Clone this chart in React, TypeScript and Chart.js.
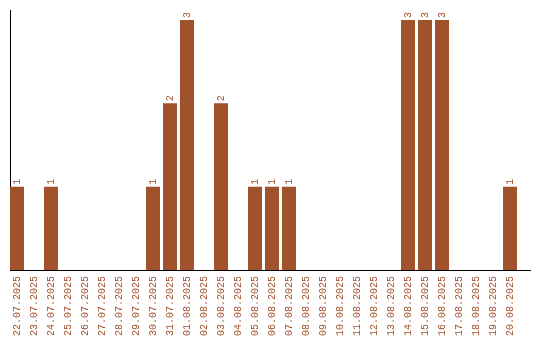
import React, { useEffect, useRef } from "react";
import { Chart, registerables } from "chart.js";

Chart.register(...registerables);

const dates = [
  "22.07.2025", "23.07.2025", "24.07.2025", "25.07.2025", "26.07.2025",
  "27.07.2025", "28.07.2025", "29.07.2025", "30.07.2025", "31.07.2025",
  "01.08.2025", "02.08.2025", "03.08.2025", "04.08.2025", "05.08.2025",
  "06.08.2025", "07.08.2025", "08.08.2025", "09.08.2025", "10.08.2025",
  "11.08.2025", "12.08.2025", "13.08.2025", "14.08.2025", "15.08.2025",
  "16.08.2025", "17.08.2025", "18.08.2025", "19.08.2025", "20.08.2025",
];

const counts = [
  1, 0, 1, 0, 0, 0, 0, 0, 1, 2,
  3, 0, 2, 0, 1, 1, 1, 0, 0, 0,
  0, 0, 0, 3, 3, 3, 0, 0, 0, 1,
];

const BAR_COLOR = "#a0522d";
const FONT = "'Liberation Mono', 'DejaVu Sans Mono', monospace";

const valueLabels = {
  id: "valueLabels",
  afterDatasetsDraw(chart: any) {
    const ctx = chart.ctx;
    const meta = chart.getDatasetMeta(0);
    ctx.save();
    ctx.fillStyle = BAR_COLOR;
    ctx.font = `10px ${FONT}`;
    ctx.textAlign = "left";
    ctx.textBaseline = "middle";
    meta.data.forEach((bar: any, i: number) => {
      const v = counts[i];
      if (!v) return;
      ctx.save();
      ctx.translate(bar.x, bar.y - 2);
      ctx.rotate(-Math.PI / 2);
      ctx.fillText(String(v), 0, 0);
      ctx.restore();
    });
    ctx.restore();
  },
};

export default function App() {
  const ref = useRef<HTMLCanvasElement | null>(null);

  useEffect(() => {
    if (!ref.current) return;
    const slot = 17;
    const width = 520;
    const xMin = -7 / slot;
    const xMax = xMin + width / slot;
    const chart = new Chart(ref.current, {
      type: "bar",
      data: {
        datasets: [
          {
            data: counts.map((v, i) => ({ x: i, y: v })),
            backgroundColor: BAR_COLOR,
            barPercentage: 14 / 17,
            categoryPercentage: 1,
          },
        ],
      },
      options: {
        animation: false,
        responsive: false,
        layout: { padding: { top: 10, right: 10, left: 0, bottom: 0 } },
        plugins: {
          legend: { display: false },
          tooltip: { enabled: false },
        },
        scales: {
          x: {
            type: "linear",
            offset: false,
            min: xMin,
            max: xMax,
            grid: { display: false, drawTicks: false, offset: false },
            border: { display: true, color: "#000", width: 1 },
            afterBuildTicks: (s: any) => {
              s.ticks = dates.map((_, i) => ({ value: i }));
            },
            afterFit: (s: any) => {
              s.height = 70;
              s.paddingLeft = 0;
              s.paddingRight = 0;
            },
            ticks: {
              autoSkip: false,
              minRotation: 90,
              maxRotation: 90,
              padding: 6,
              color: BAR_COLOR,
              font: { family: FONT, size: 10 },
              callback: (v: any) => dates[Math.round(Number(v))] ?? "",
            },
          },
          y: {
            min: 0,
            max: 3.12,
            grid: { display: false, drawTicks: false },
            border: { display: true, color: "#000", width: 1 },
            ticks: { display: false },
            afterFit: (s: any) => {
              s.width = 10;
            },
          },
        },
      },
      plugins: [valueLabels],
    });
    return () => chart.destroy();
  }, []);

  return (
    <div style={{ position: "absolute", left: 0, top: 0, width: 540, height: 340 }}>
      <canvas ref={ref} width={540} height={340} style={{ display: "block" }} />
    </div>
  );
}
